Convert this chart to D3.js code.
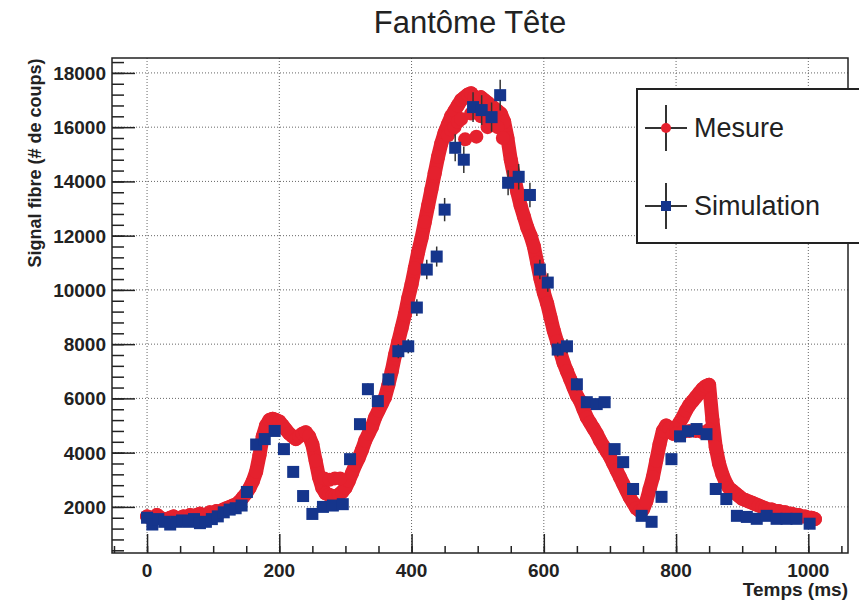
<!DOCTYPE html>
<html>
<head>
<meta charset="utf-8">
<script src="https://cdn.jsdelivr.net/npm/d3@7"></script>
<style>
  body { margin: 0; background: #fff; }
  svg { font-family: "Liberation Sans", Arial, Helvetica, sans-serif; }
</style>
</head>
<body>
<svg id="chart" width="859" height="602"></svg>
<script>
var mesureStart = 0, mesureStep = 5;
var mesureVal = [1650,1600,1550,1700,1600,1550,1500,1600,1650,1550,
  1600,1650,1600,1700,1650,1700,1750,1650,1700,1800,
  1750,1850,1800,1900,1950,2000,2050,2100,2200,2350,
  2500,2700,2950,3300,3900,4600,5000,5200,5250,5200,
  5150,5000,4850,4700,4600,4500,4600,4700,4750,4600,
  4300,3700,3100,2700,2500,2450,2400,2400,2450,2550,
  2700,2950,3250,3550,3800,4100,4450,4700,4950,5300,
  5550,5800,6050,6500,7000,7600,8100,8600,9100,9700,
  10200,10800,11400,11900,12500,13100,13700,14300,14900,15400,
  15800,16100,16400,16600,16800,17000,17100,17200,17250,17100,
  17000,17100,17000,16900,16800,16700,16600,16500,16200,15600,
  14800,14200,13600,13100,12700,12300,12000,11600,11000,10400,
  9900,9500,9000,8500,8100,7700,7300,7000,6700,6400,
  6100,5900,5600,5300,5100,4900,4700,4450,4250,4050,
  3850,3600,3350,3100,2850,2600,2350,2150,1950,1850,
  1900,2200,2650,3100,3700,4300,4800,5000,4900,4700,
  4900,5100,5300,5550,5750,5900,6050,6200,6350,6450,
  6500,5200,4200,3600,3200,2900,2700,2600,2500,2400,
  2300,2250,2200,2150,2100,2050,2000,1950,1900,1900,
  1850,1850,1800,1800,1750,1750,1700,1700,1650,1650,
  1600,1600,1550];

// extra Mesure points (second branch / scattered points)
var mesureExtraT = [268, 276, 284, 292,
  455, 460, 465, 470, 475, 481, 490, 498, 505, 515, 520, 525, 530, 538,
  800, 810, 820, 830, 840, 850];
var mesureExtraV = [3050, 3000, 3050, 3050,
  15700, 15900, 16000, 16200, 16300, 15550, 16500, 15650, 16400, 16000, 16200, 16300, 16000, 15600,
  4700, 4750, 4800, 4800, 4750, 4850];

// Simulation
var simT = [0,8,17,26,35,44,53,62,71,80,89,98,107,116,125,134,143,151,165,178,
  193,207,221,236,250,266,281,296,307,322,334,349,365,380,395,408,423,438,450,466,
  479,493,506,521,534,546,562,579,594,606,621,635,650,665,680,692,707,720,735,748,
  763,778,793,806,818,831,846,860,876,892,907,922,937,952,967,982,1002];
var simV = [1600,1350,1550,1450,1350,1450,1500,1450,1550,1400,1450,1550,1650,1800,1900,1950,2050,2550,4300,4500,
  4800,4130,3290,2400,1740,2000,2050,2100,3760,5050,6340,5900,6700,7740,7920,9350,10750,11230,12960,15240,
  14800,16740,16630,16370,17180,13950,14170,13500,10750,10270,7800,7920,6520,5860,5790,5860,4130,3650,2660,1670,
  1450,2370,3760,4600,4790,4870,4680,2660,2290,1670,1630,1560,1670,1560,1560,1560,1380];
var simErr = [60,55,60,55,55,55,60,55,60,55,55,60,60,65,70,70,75,90,150,150,
  160,150,120,90,70,75,75,75,130,170,210,200,220,260,260,310,360,370,430,500,
  490,550,550,540,570,460,470,450,360,340,260,260,220,200,190,190,140,120,90,65,
  60,85,130,150,160,160,155,90,80,65,65,60,65,60,60,60,55];

var xTicks = [0, 200, 400, 600, 800, 1000];
var yTicks = [2000, 4000, 6000, 8000, 10000, 12000, 14000, 16000, 18000];

var pLeft = 112, pRight = 848, pTop = 58, pBottom = 553;

var svg = d3.select("#chart");

var x = d3.scaleLinear().domain([-53, 1060]).range([pLeft, pRight]);
var y = d3.scaleLinear().domain([300, 18550]).range([pBottom, pTop]);

var red = "#e5212e", blue = "#15358c";

// grid
svg.append("g")
  .selectAll("line")
  .data(xTicks)
  .enter()
  .append("line")
  .attr("x1", function(d) { return x(d); })
  .attr("x2", function(d) { return x(d); })
  .attr("y1", pTop)
  .attr("y2", pBottom)
  .attr("stroke", "#666")
  .attr("stroke-width", 1)
  .attr("stroke-dasharray", "1,2");

svg.append("g")
  .selectAll("line")
  .data(yTicks)
  .enter()
  .append("line")
  .attr("x1", pLeft)
  .attr("x2", pRight)
  .attr("y1", function(d) { return y(d); })
  .attr("y2", function(d) { return y(d); })
  .attr("stroke", "#666")
  .attr("stroke-width", 1)
  .attr("stroke-dasharray", "1,2");

// frame
svg.append("rect")
  .attr("x", pLeft)
  .attr("y", pTop)
  .attr("width", pRight - pLeft)
  .attr("height", pBottom - pTop)
  .attr("fill", "none")
  .attr("stroke", "#222")
  .attr("stroke-width", 1.5);

// axes with inner ticks
var xAxis = d3.axisTop(x)
  .tickValues(xTicks)
  .tickSize(19)
  .tickFormat("");
var xMinor = d3.axisTop(x)
  .tickValues(d3.range(-50, 1060, 50))
  .tickSize(7)
  .tickFormat("");
var yAxis = d3.axisRight(y)
  .tickValues(yTicks)
  .tickSize(23)
  .tickFormat("");
var yMinor = d3.axisRight(y)
  .tickValues(d3.range(400, 18550, 400))
  .tickSize(12)
  .tickFormat("");

[xAxis, xMinor].forEach(function(ax) {
  svg.append("g").attr("transform", "translate(0," + pBottom + ")").call(ax)
    .call(function(g) { g.select(".domain").remove(); })
    .selectAll("line").attr("stroke", "#222").attr("stroke-width", 1.5);
});
[yAxis, yMinor].forEach(function(ax) {
  svg.append("g").attr("transform", "translate(" + pLeft + ",0)").call(ax)
    .call(function(g) { g.select(".domain").remove(); })
    .selectAll("line").attr("stroke", "#222").attr("stroke-width", 1.5);
});

// tick labels
svg.append("g")
  .selectAll("text")
  .data(xTicks)
  .enter()
  .append("text")
  .attr("x", function(d) { return x(d); })
  .attr("y", 577)
  .attr("text-anchor", "middle")
  .style("font-size", "19px")
  .style("font-weight", "bold")
  .attr("fill", "#222")
  .text(function(d) { return d; });

svg.append("g")
  .selectAll("text")
  .data(yTicks)
  .enter()
  .append("text")
  .attr("x", 106)
  .attr("y", function(d) { return y(d) + 7; })
  .attr("text-anchor", "end")
  .style("font-size", "19px")
  .style("font-weight", "bold")
  .attr("fill", "#222")
  .text(function(d) { return d; });

// axis titles
svg.append("text")
  .attr("x", 848)
  .attr("y", 596)
  .attr("text-anchor", "end")
  .style("font-size", "19px")
  .style("font-weight", "bold")
  .attr("fill", "#222")
  .text("Temps (ms)");

svg.append("text")
  .attr("transform", "translate(41,163) rotate(-90)")
  .attr("text-anchor", "middle")
  .style("font-size", "18px")
  .style("font-weight", "bold")
  .attr("fill", "#222")
  .text("Signal fibre (# de coups)");

svg.append("text")
  .attr("x", 470)
  .attr("y", 33)
  .attr("text-anchor", "middle")
  .style("font-size", "31px")
  .attr("fill", "#222")
  .text("Fantôme Tête");

// Mesure points
var mesure = mesureVal.map(function(v, i) { return [mesureStart + i * mesureStep, v]; });
var mesureAll = mesure.slice();
mesureExtraT.forEach(function(t, i) { mesureAll.push([t, mesureExtraV[i]]); });

var plot = svg.append("g");

// dense acquisition: band joining successive samples
var band = d3.line()
  .x(function(d) { return x(d[0]); })
  .y(function(d) { return y(d[1]); });

plot.append("path")
  .datum(mesure)
  .attr("d", band)
  .attr("fill", "none")
  .attr("stroke", red)
  .attr("stroke-width", 14)
  .attr("stroke-linejoin", "round")
  .attr("stroke-linecap", "round");

plot.selectAll(".mes")
  .data(mesureAll)
  .enter()
  .append("circle")
  .attr("class", "mes")
  .attr("cx", function(d) { return x(d[0]); })
  .attr("cy", function(d) { return y(d[1]); })
  .attr("r", 7)
  .attr("fill", red);

// Simulation error bars + squares
var sim = simT.map(function(t, i) { return [t, simV[i], simErr[i]]; });

plot.selectAll(".err")
  .data(sim)
  .enter()
  .append("line")
  .attr("class", "err")
  .attr("x1", function(d) { return x(d[0]); })
  .attr("x2", function(d) { return x(d[0]); })
  .attr("y1", function(d) { return y(d[1] - d[2]); })
  .attr("y2", function(d) { return y(d[1] + d[2]); })
  .attr("stroke", "#333")
  .attr("stroke-width", 1.5);

plot.selectAll(".sim")
  .data(sim)
  .enter()
  .append("rect")
  .attr("class", "sim")
  .attr("x", function(d) { return x(d[0]) - 6; })
  .attr("y", function(d) { return y(d[1]) - 6; })
  .attr("width", 12)
  .attr("height", 12)
  .attr("fill", blue);

// legend
var names = ["Mesure", "Simulation"];

svg.append("rect")
  .attr("x", 637)
  .attr("y", 89)
  .attr("width", 240)
  .attr("height", 154)
  .attr("fill", "#fff")
  .attr("stroke", "#222")
  .attr("stroke-width", 2);

var legend = svg.selectAll(".legend")
  .data(names)
  .enter()
  .append("g")
  .attr("class", "legend")
  .attr("transform", function(d, i) { return "translate(666," + (128 + i * 78) + ")"; });

legend.append("line")
  .attr("x1", -21).attr("x2", 21)
  .attr("stroke", "#333").attr("stroke-width", 2);
legend.append("line")
  .attr("y1", -23).attr("y2", 23)
  .attr("stroke", "#333").attr("stroke-width", 2);

legend.filter(function(d, i) { return i == 0; })
  .append("circle")
  .attr("r", 5)
  .attr("fill", red);
legend.filter(function(d, i) { return i == 1; })
  .append("rect")
  .attr("x", -5).attr("y", -5)
  .attr("width", 10).attr("height", 10)
  .attr("fill", blue);

legend.append("text")
  .attr("x", 28)
  .attr("y", 9)
  .style("font-size", "27px")
  .attr("fill", "#222")
  .text(function(d) { return d; });
</script>
</body>
</html>
